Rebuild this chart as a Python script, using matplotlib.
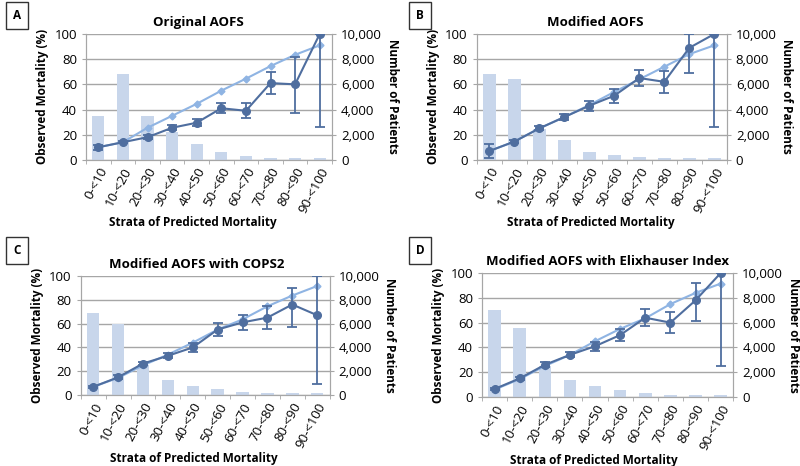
import matplotlib.pyplot as plt
import numpy as np

plt.rcParams['font.family'] = ['Open Sans', 'DejaVu Sans']

strata = ['0-<10', '10-<20', '20-<30', '30-<40', '40-<50',
          '50-<60', '60-<70', '70-<80', '80-<90', '90-<100']

titles = ['Original AOFS', 'Modified AOFS',
          'Modified AOFS with COPS2', 'Modified AOFS with Elixhauser Index']
letters = ['A', 'B', 'C', 'D']

# predicted mortality (%) per stratum
predicted = [
    [10, 14, 25.5, 35, 44.5, 55, 64.5, 74.5, 83.5, 91],
    [7, 14.5, 25, 34, 43.5, 54, 64, 74, 84, 91],
    [7, 14.5, 25, 34, 44, 55, 63.5, 74.5, 83.5, 91.5],
    [6, 14.5, 25, 34, 45, 55, 63.5, 75, 84, 91.5],
]

# observed mortality (%) with lower / upper error
observed = [
    [10, 14, 18, 25.5, 29.5, 41, 39, 61, 60, 100],
    [7, 14.5, 25, 34, 43, 51, 65, 62, 89, 100],
    [7, 15, 26.5, 33, 40, 55, 61, 65, 76, 67],
    [6.5, 15, 26, 34, 41, 50, 64, 60, 78, 100],
]
err_low = [
    [2, 1, 1.5, 2, 3, 4, 6, 8.5, 23, 74],
    [5.5, 1, 1.5, 2.5, 4, 5.5, 6.5, 9, 20, 74],
    [1, 1.5, 1.5, 2, 3.5, 5.5, 6, 9.5, 19, 57.5],
    [1, 1.5, 2, 2, 3.5, 5, 7, 8.5, 17, 75],
]
err_high = [
    [2, 1, 1.5, 2, 3, 4, 6, 8.5, 22, 0],
    [5.5, 1, 1.5, 2.5, 4, 5.5, 6.5, 9, 11, 0],
    [1, 1.5, 1.5, 2, 3.5, 5.5, 6, 9.5, 14, 33],
    [1, 1.5, 2, 2, 3.5, 5, 7, 8.5, 14, 0],
]

# number of patients per stratum
patients = [
    [3500, 6850, 3500, 2250, 1250, 600, 300, 150, 150, 150],
    [6850, 6450, 2450, 1550, 600, 400, 250, 150, 150, 150],
    [6900, 6000, 2500, 1300, 750, 550, 300, 150, 150, 150],
    [7000, 5600, 2500, 1350, 850, 550, 300, 150, 150, 150],
]

# axes boxes [left, bottom, width, height] in figure fraction
boxes = [
    [0.1075, 0.657, 0.3075, 0.27],
    [0.596, 0.657, 0.3125, 0.27],
    [0.101, 0.152, 0.311, 0.256],
    [0.6025, 0.148, 0.314, 0.266],
]
letter_pos = [(0.021, 0.967), (0.525, 0.967), (0.021, 0.462), (0.525, 0.462)]
title_x = [0.455, 0.475, 0.467, 0.5]
xlabel_x = [0.435, 0.455, 0.455, 0.445]

bar_col = '#c8d6eb'
pred_col = '#8fb4e3'
obs_col = '#4f6e9f'
grid_col = '#a6a6a6'

fig = plt.figure(figsize=(8, 4.66), dpi=100)
x = np.arange(len(strata))

for i in range(4):
    ax2 = fig.add_axes(boxes[i])
    ax = ax2.twinx()
    ax.set_zorder(ax2.get_zorder() + 1)
    ax.patch.set_visible(False)

    # bars on the right axis
    ax2.bar(x, patients[i], width=0.5, color=bar_col, zorder=2)
    ax2.set_ylim(0, 10000)
    ax2.set_yticks(range(0, 10001, 2000))
    ax2.set_yticklabels(['{:,}'.format(v) for v in range(0, 10001, 2000)])
    ax2.yaxis.tick_right()
    ax2.yaxis.set_label_position('right')
    ax2.grid(axis='y', color=grid_col, lw=1, zorder=0)
    ax2.set_axisbelow(True)

    # lines on the left axis
    ax.yaxis.tick_left()
    ax.yaxis.set_label_position('left')
    ax.plot(x, predicted[i], color=pred_col, marker='D', ms=3.5, lw=1.5, zorder=3)
    ax.errorbar(x, observed[i], yerr=[err_low[i], err_high[i]], color=obs_col,
                marker='o', ms=5.5, lw=1.5, elinewidth=1.3, capsize=3.5, capthick=1.3,
                zorder=4)
    ax.set_ylim(0, 100)
    ax.set_yticks(range(0, 101, 20))
    ax.set_xlim(-0.5, 9.5)

    ax2.set_xticks(x)
    ax2.set_xticklabels(strata, rotation=62, ha='right', rotation_mode='anchor',
                        fontsize=9.5)
    ax2.set_xticks(np.arange(-0.5, 10, 1), minor=True)
    ax2.tick_params(axis='x', which='major', length=0, pad=4)
    ax2.tick_params(axis='x', which='minor', length=3, color=grid_col)
    ax2.tick_params(axis='y', length=3, color=grid_col, labelsize=9.5)
    ax.tick_params(axis='y', length=3, color=grid_col, labelsize=9.5)

    for a in (ax, ax2):
        a.spines['top'].set_visible(False)
        for s in ('left', 'right', 'bottom'):
            a.spines[s].set_color(grid_col)

    ax.set_ylabel('Observed Mortality (%)', fontsize=8.5, fontweight='bold')
    ax2.set_ylabel('Number of Patients', fontsize=8.5, fontweight='bold',
                   rotation=270, labelpad=12)
    ax2.set_xlabel('Strata of Predicted Mortality', fontsize=8.5,
                   fontweight='bold', labelpad=1, x=xlabel_x[i])
    ax.set_title(titles[i], fontsize=9.5, fontweight='bold', pad=6, x=title_x[i])

    fig.text(letter_pos[i][0], letter_pos[i][1], letters[i], fontsize=8.5,
             fontweight='bold', ha='center', va='center',
             bbox=dict(boxstyle='square,pad=0.6', fc='white', ec='#333333', lw=1))

fig.savefig('out.png', dpi=100)
